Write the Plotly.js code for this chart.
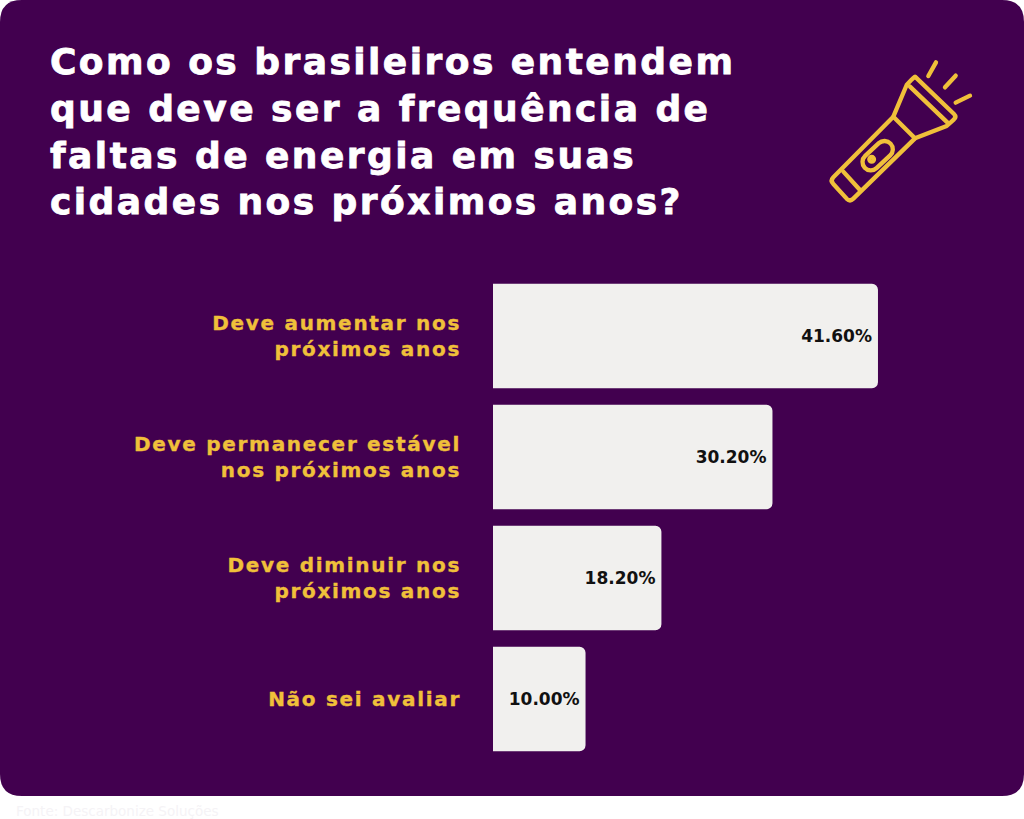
<!DOCTYPE html>
<html><head><meta charset="utf-8">
<script src="https://cdn.plot.ly/plotly-3.0.1.min.js"></script>
<style>html,body{margin:0;padding:0;background:#fff}#c{width:1024px;height:819px}
.gtitle{letter-spacing:2.45px;stroke:#ffffff;stroke-width:.8px}.ytick text{letter-spacing:1.7px;stroke:#f0c03a;stroke-width:.35px}</style>
</head><body><div id="c"></div>
<script>
const categories = ["Deve aumentar nos<br>próximos anos","Deve permanecer estável<br>nos próximos anos","Deve diminuir nos<br>próximos anos","Não sei avaliar"];
const values = [41.6,30.2,18.2,10.0];
const chartTitle = "Como os brasileiros entendem<br>que deve ser a frequência de<br>faltas de energia em suas<br>cidades nos próximos anos?";
const sourceNote = "Fonte: Descarbonize Soluções";

const W=1024,H=819,BG="#42004f",Y="#f0c03a",BAR="#f1f0ee";
const FONT='"DejaVu Sans", sans-serif';
const px=x=>x/W, py=y=>1-y/H;
function P(x,y){return px(x).toFixed(5)+","+py(y).toFixed(5);}
const R=22,B=796;
const card="M"+P(R,0)+" L"+P(W-R,0)+" Q"+P(W,0)+" "+P(W,R)+" L"+P(W,B-R)+" Q"+P(W,B)+" "+P(W-R,B)+" L"+P(R,B)+" Q"+P(0,B)+" "+P(0,B-R)+" L"+P(0,R)+" Q"+P(0,0)+" "+P(R,0)+" Z";

const iconSvg=`<svg xmlns="http://www.w3.org/2000/svg" width="600" height="540" viewBox="0 0 600 540"><g fill="none" stroke="${Y}" stroke-width="13" stroke-linecap="round" stroke-linejoin="round"><path d="M320 135Q335 118 345 110L462 222Q470 230 462 238L440 258L345 295L160 476Q150 486 140 476L100 432Q90 422 100 412L280 230Z"/><path d="M330 140L445 250M280 230L345 295M130 395L180 450"/><rect x="180" y="322" width="106" height="50" rx="25" transform="rotate(-43 233 347)"/><circle cx="215" cy="358" r="7"/><path d="M385 108L408 67M435 142L467 107M467 188L510 167"/></g></svg>`;

Plotly.newPlot("c",[{
  type:"bar",orientation:"h",y:categories,x:values,
  marker:{color:BAR,line:{width:0},cornerradius:6},width:0.864,
  texttemplate:"%{x:.2f}%",textposition:"inside",insidetextanchor:"end",textangle:0,constraintext:"none",
  textfont:{family:FONT,size:17,color:"#111111",weight:700},hoverinfo:"skip",cliponaxis:false
}],{
  width:W,height:H,paper_bgcolor:"#ffffff",plot_bgcolor:"rgba(0,0,0,0)",showlegend:false,
  margin:{l:0,r:0,t:0,b:0,pad:0},
  title:{text:chartTitle,x:50/W,xref:"paper",xanchor:"left",y:py(74),yref:"paper",yanchor:"top",automargin:false,pad:{t:0,l:0,r:0,b:0},
    font:{family:FONT,size:36,color:"#ffffff",weight:700}},
  xaxis:{domain:[493/W,1],range:[0,57.38],visible:false,fixedrange:true},
  yaxis:{domain:[py(759.5),py(275.5)],anchor:"x",autorange:false,range:[3.5,-0.5],type:"category",categoryorder:"array",categoryarray:categories,
    showgrid:false,zeroline:false,showline:false,ticks:"",ticklabelstandoff:31,
    tickfont:{family:FONT,size:20,color:Y,weight:700},fixedrange:true,automargin:false},
  shapes:[{type:"path",xref:"paper",yref:"paper",layer:"below",path:card,fillcolor:BG,line:{width:0}}],
  images:[{source:"data:image/svg+xml;base64,"+btoa(iconSvg),xref:"paper",yref:"paper",x:px(800),y:py(40),sizex:200/W,sizey:180/H,xanchor:"left",yanchor:"top",layer:"above",sizing:"stretch"}],
  annotations:[{text:sourceNote,xref:"paper",yref:"paper",x:14/W,y:py(811),xanchor:"left",yanchor:"middle",showarrow:false,font:{family:FONT,size:13.5,color:"#f5f3f6"}}]
},{displayModeBar:false,staticPlot:true});
</script></body></html>
